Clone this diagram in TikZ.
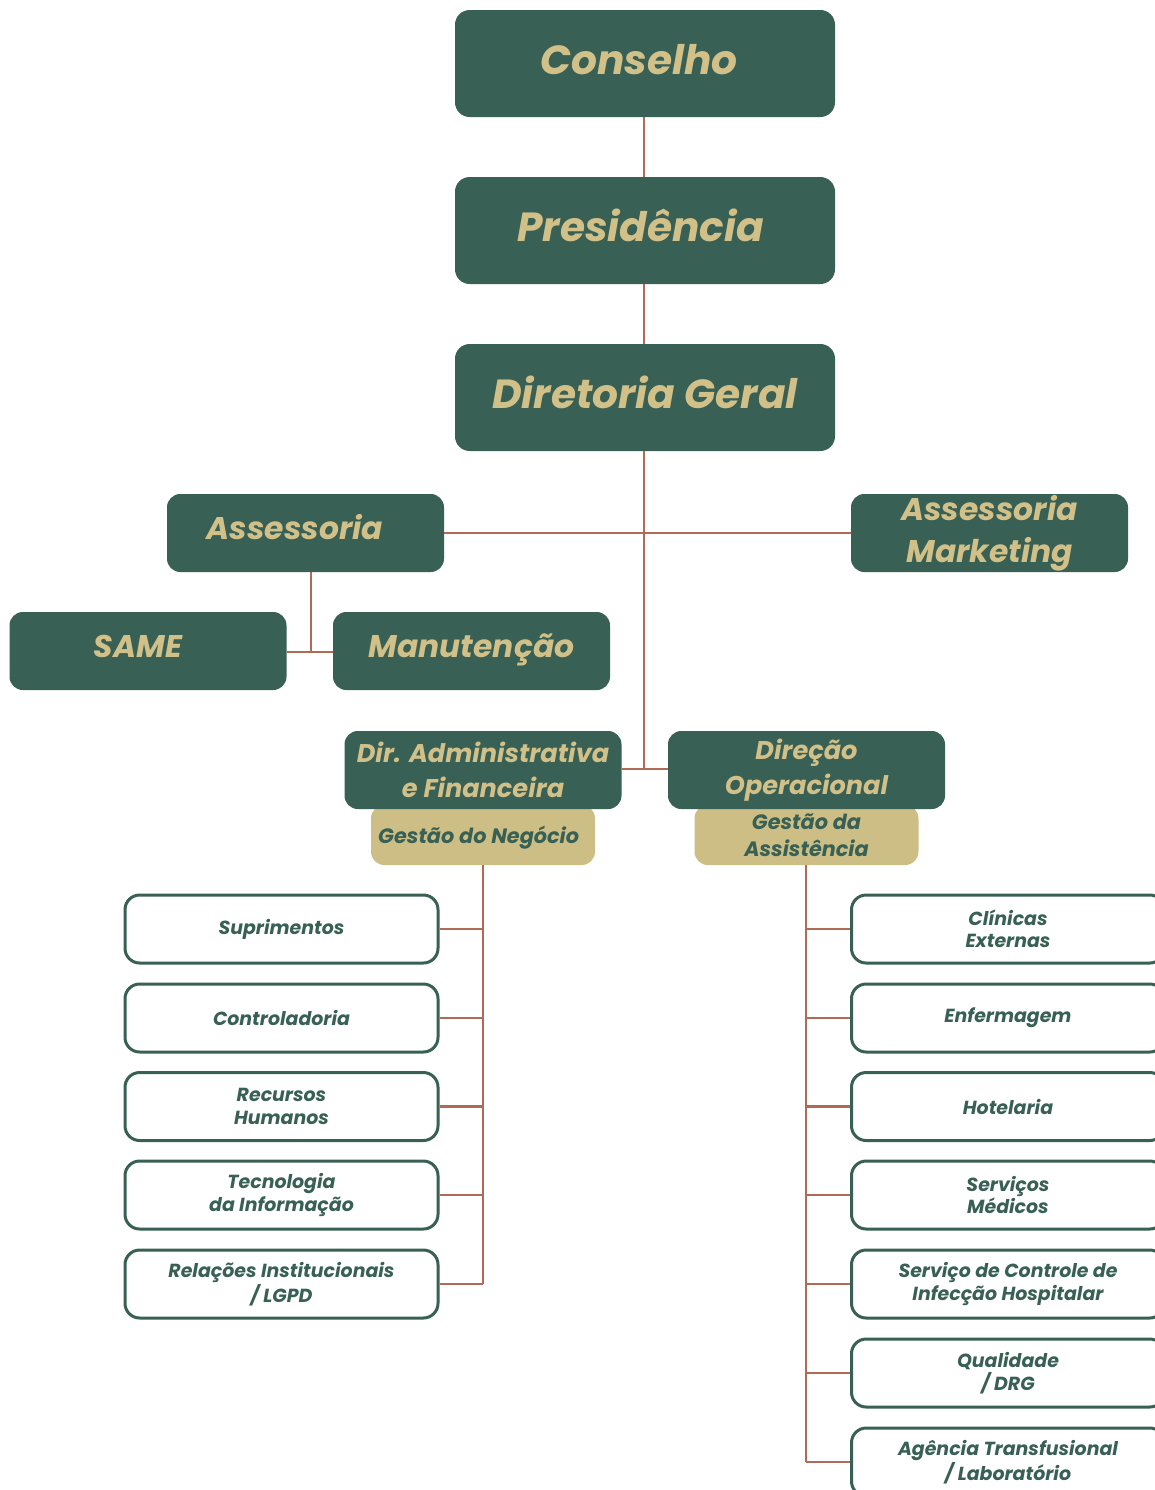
\documentclass[tikz,border=0pt]{standalone}
\usepackage{fontspec}
\setmainfont{Poppins}
\definecolor{dgreen}{HTML}{386055}
\definecolor{goldtxt}{HTML}{D2C089}
\definecolor{tanbox}{HTML}{CDBE86}
\definecolor{linec}{HTML}{B06A55}
\begin{document}
\begin{tikzpicture}[x=0.75pt,y=-0.75pt,
  bigbox/.style={fill=dgreen, rounded corners=11pt, minimum width=285pt, minimum height=80.25pt, inner sep=0pt, text=goldtxt, align=center, text height=24pt, text depth=7.2pt, font=\fontsize{30.5}{34}\selectfont\bfseries\itshape},
  midbox/.style={fill=dgreen, rounded corners=10pt, minimum width=207.75pt, minimum height=58.5pt, inner sep=0pt, text=goldtxt, align=center, font=\fontsize{23.5}{31.5}\selectfont\bfseries\itshape},
  oneline/.style={text height=18pt, text depth=8.4pt},
  dirbox/.style={fill=dgreen, rounded corners=10pt, minimum width=207.75pt, minimum height=58.5pt, inner sep=0pt, text=goldtxt, align=center, font=\fontsize{19.2}{26.5}\selectfont\bfseries\itshape},
  tbox/.style={fill=tanbox, rounded corners=10pt, minimum width=168pt, minimum height=45pt, inner sep=0pt, text=dgreen, align=center, font=\fontsize{15.6}{20.2}\selectfont\bfseries\itshape},
  leaf/.style={draw=dgreen, line width=2.25pt, fill=white, rounded corners=11pt, minimum width=234.75pt, minimum height=51pt, inner sep=0pt, text=dgreen, align=center, font=\fontsize{14.2}{16.8}\selectfont\bfseries\itshape},
  conn/.style={draw=linec, line width=2pt}
]
\useasboundingbox (0,0) rectangle (1155,1490);
\clip (0,0) rectangle (1155,1490);

% top chain
\node[bigbox] (cons) at (645,63.5) {Conselho\hspace*{9pt}};
\node[bigbox] (pres) at (645,230.5) {Presidência\hspace*{6.5pt}};
\node[bigbox] (dger) at (645,397.5) {Diretoria Geral};

% staff
\node[midbox, oneline] (ass) at (305.5,533) {Assessoria\hspace*{16pt}};
\node[midbox] (mkt) at (989.5,533) {Assessoria\\Marketing};
\node[midbox, oneline] (same) at (148,651) {SAME\hspace*{15pt}};
\node[midbox, oneline] (man) at (471.5,651) {Manutenção};

% directions
\node[tbox, text height=14pt, text depth=1.5pt] (gn) at (483,835) {Gestão do Negócio\hspace*{6.5pt}};
\node[tbox] (ga) at (806.5,835) {Gestão da\\Assistência};
\node[dirbox] (dadm) at (483,770) {Dir. Administrativa\\e Financeira};
\node[dirbox] (dop) at (806.5,770) {Direção\\Operacional};

% left leaves
\node[leaf] (l1) at (281.5,929) {Suprimentos};
\node[leaf] (l2) at (281.5,1018) {Controladoria};
\node[leaf] (l3) at (281.5,1106.5) {Recursos\\Humanos};
\node[leaf] (l4) at (281.5,1195) {Tecnologia\\da Informação};
\node[leaf] (l5) at (281.5,1284) {Relações Institucionais\\/ LGPD};

% right leaves
\node[leaf] (r1) at (1008,929) {Clínicas\\Externas};
\node[leaf] (r2) at (1008,1018) {Enfermagem};
\node[leaf] (r3) at (1008,1106.5) {Hotelaria};
\node[leaf] (r4) at (1008,1195) {Serviços\\Médicos};
\node[leaf] (r5) at (1008,1284) {Serviço de Controle de\\Infecção Hospitalar};
\node[leaf] (r6) at (1008,1373) {Qualidade\\/ DRG};
\node[leaf] (r7) at (1008,1462) {Agência Transfusional\\/ Laboratório};

% connectors
\coordinate (mj) at (644,769);
\coordinate (aj) at (311,652);
\coordinate (lx) at (483,0);
\coordinate (rx) at (806,0);
\draw[conn] (cons.south -| mj) -- (pres.north -| mj);
\draw[conn] (pres.south -| mj) -- (dger.north -| mj);
\draw[conn] (dger.south -| mj) -- (mj);
\draw[conn] (ass.east) -- (mkt.west);
\draw[conn] (dadm.east |- mj) -- (dop.west |- mj);
\draw[conn] (aj |- ass.south) -- (aj);
\draw[conn] (same.east |- aj) -- (man.west |- aj);
\draw[conn] (gn.south -| lx) -- (l5.east -| lx);
\foreach \n in {l1,l2,l3,l4,l5} \draw[conn] (\n.east) -- (\n.east -| lx);
\draw[conn] (ga.south -| rx) -- (r7.west -| rx);
\foreach \n in {r1,r2,r3,r4,r5,r6,r7} \draw[conn] (\n.west) -- (\n.west -| rx);
\end{tikzpicture}
\end{document}
